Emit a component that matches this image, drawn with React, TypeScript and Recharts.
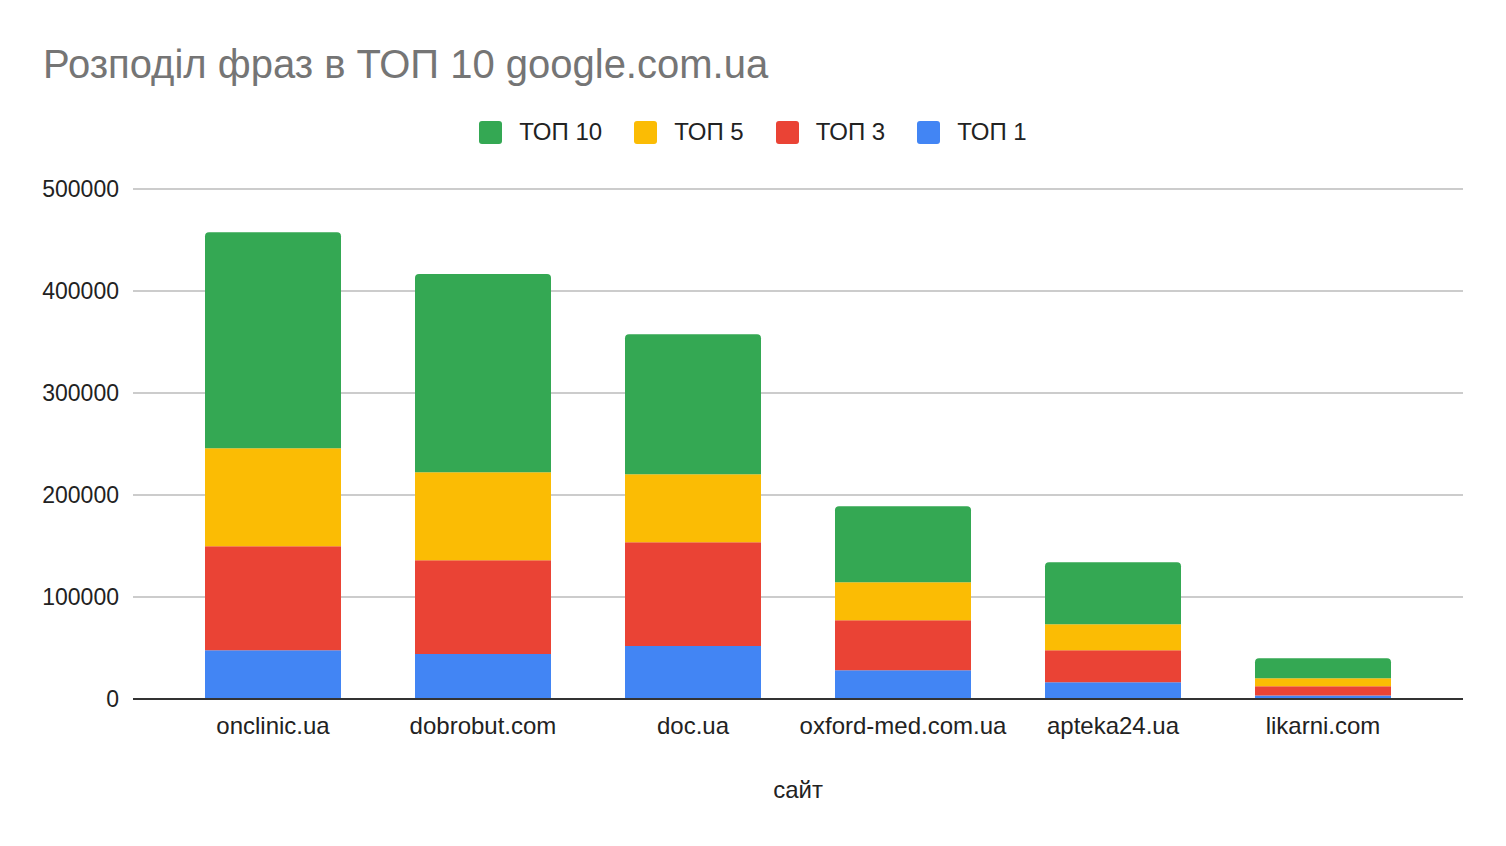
import React from "react";
import { BarChart, Bar, XAxis, YAxis, CartesianGrid } from "recharts";

const sites = ["onclinic.ua", "dobrobut.com", "doc.ua", "oxford-med.com.ua", "apteka24.ua", "likarni.com"];
const top1 = [47700, 44100, 52000, 28100, 16400, 3500];
const top3 = [102000, 91900, 101600, 49100, 31300, 9000];
const top5 = [96100, 86300, 66700, 37200, 25500, 7800];
const top10 = [211700, 194400, 137200, 74500, 60800, 19600];
const yTicks = [0, 100000, 200000, 300000, 400000, 500000];

const series = [
  { key: "top10", name: "ТОП 10", color: "#34a853" },
  { key: "top5", name: "ТОП 5", color: "#fbbc04" },
  { key: "top3", name: "ТОП 3", color: "#ea4335" },
  { key: "top1", name: "ТОП 1", color: "#4285f4" },
];

const font = "'Liberation Sans', Arial, sans-serif";

export default function App() {
  const data = sites.map((site, i) => ({
    site,
    top1: top1[i],
    top3: top3[i],
    top5: top5[i],
    top10: top10[i],
  }));

  return (
    <div
      style={{
        position: "absolute",
        left: 0,
        top: 0,
        width: 1506,
        height: 846,
        background: "#fff",
        fontFamily: font,
      }}
    >
      <div
        style={{
          position: "absolute",
          left: 43,
          top: 42,
          fontSize: 40,
          color: "#757575",
          whiteSpace: "nowrap",
        }}
      >
        Розподіл фраз в ТОП 10 google.com.ua
      </div>

      {/* legend */}
      <div
        style={{
          position: "absolute",
          left: 0,
          top: 120,
          width: 1506,
          display: "flex",
          justifyContent: "center",
          gap: 32,
          fontSize: 24,
          color: "#222",
        }}
      >
        {series.map((s) => (
          <div key={s.key} style={{ display: "flex", alignItems: "center", height: 24 }}>
            <span
              style={{
                width: 23,
                height: 23,
                borderRadius: 3,
                background: s.color,
                marginRight: 17,
                display: "inline-block",
              }}
            />
            <span>{s.name}</span>
          </div>
        ))}
      </div>

      <BarChart
        width={1506}
        height={846}
        data={data}
        margin={{ top: 189, right: 43, left: 0, bottom: 0 }}
      >
        <CartesianGrid vertical={false} stroke="#cccccc" strokeWidth={2} />
        <XAxis
          dataKey="site"
          height={147}
          padding={{ left: 35, right: 35 }}
          tickLine={false}
          tickSize={0}
          tickMargin={18}
          axisLine={{ stroke: "#333333", strokeWidth: 2 }}
          tick={{ fill: "#222", fontSize: 24, fontFamily: font }}
          label={{
            value: "сайт",
            position: "insideBottom",
            offset: 48,
            fill: "#222",
            fontSize: 24,
            fontFamily: font,
          }}
        />
        <YAxis
          width={133}
          domain={[0, 500000]}
          ticks={yTicks}
          axisLine={false}
          tickLine={false}
          tickSize={0}
          tickMargin={14}
          tick={{ fill: "#222", fontSize: 23, fontFamily: font }}
        />
        <Bar dataKey="top1" name="ТОП 1" stackId="a" fill="#4285f4" barSize={136} isAnimationActive={false} />
        <Bar dataKey="top3" name="ТОП 3" stackId="a" fill="#ea4335" barSize={136} isAnimationActive={false} />
        <Bar dataKey="top5" name="ТОП 5" stackId="a" fill="#fbbc04" barSize={136} isAnimationActive={false} />
        <Bar
          dataKey="top10"
          name="ТОП 10"
          stackId="a"
          fill="#34a853"
          barSize={136}
          radius={[4, 4, 0, 0]}
          isAnimationActive={false}
        />
      </BarChart>
    </div>
  );
}
